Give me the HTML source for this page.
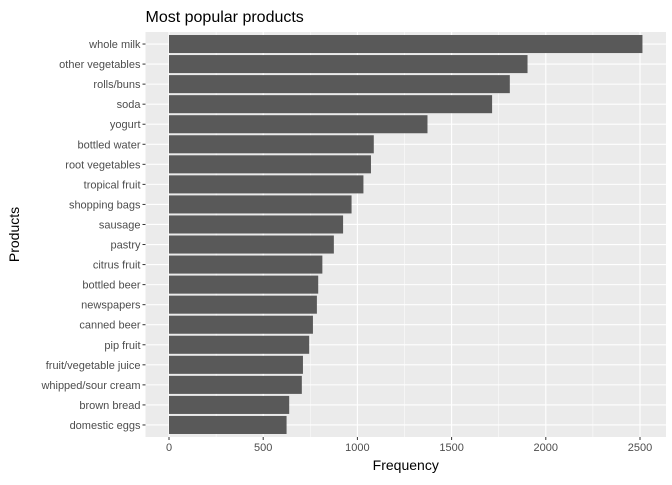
<!DOCTYPE html>
<html><head><meta charset="utf-8"><style>
body{margin:0;background:#fff;font-family:"Liberation Sans",sans-serif}
</style></head><body>
<svg width="672" height="480" id="c" xmlns="http://www.w3.org/2000/svg"></svg>
<script>
const categories=["whole milk","other vegetables","rolls/buns","soda","yogurt","bottled water","root vegetables","tropical fruit","shopping bags","sausage","pastry","citrus fruit","bottled beer","newspapers","canned beer","pip fruit","fruit/vegetable juice","whipped/sour cream","brown bread","domestic eggs"];
const values=[2513,1903,1809,1715,1372,1087,1072,1032,969,924,875,814,792,785,764,744,711,705,638,624];
const xTicks=[0,500,1000,1500,2000,2500];
const svg=document.getElementById('c');
const NS="http://www.w3.org/2000/svg";
const L=145.5,R=666,T=32,B=437;
const x=v=>169+v*0.1884;
const step=(B-T)/(categories.length+0.2);
const y=i=>T+step*0.6+i*step;
function mk(t,a,p){const e=document.createElementNS(NS,t);for(const k in a)e.setAttribute(k,a[k]);(p||svg).appendChild(e);return e;}
const bg=mk('rect',{x:L,y:T,width:R-L,height:B-T,fill:'#ebebeb'});


for(let i=0;i<xTicks.length-1;i++){const m=(xTicks[i]+xTicks[i+1])/2;const g=mk('line',{x1:x(m),x2:x(m),y1:T,y2:B,stroke:'#fff','stroke-width':0.5});

}
xTicks.forEach(t=>{const g=mk('line',{x1:x(t),x2:x(t),y1:T,y2:B,stroke:'#fff','stroke-width':1.1});


mk('line',{x1:x(t),x2:x(t),y1:B,y2:B+3,stroke:'#333','stroke-width':1});
const tx=mk('text',{x:x(t),y:B+14,'text-anchor':'middle','font-size':11,fill:'#4d4d4d'});tx.textContent=t;

});
categories.forEach((c,i)=>{const g=mk('line',{x1:L,x2:R,y1:y(i),y2:y(i),stroke:'#fff','stroke-width':1.1});


const b=mk('rect',{x:x(0),y:y(i)-step*0.45,width:x(values[i])-x(0),height:step*0.9,fill:'#595959'});


mk('line',{x1:L-3,x2:L,y1:y(i),y2:y(i),stroke:'#333','stroke-width':1});
const tx=mk('text',{x:L-5,y:y(i)+4,'text-anchor':'end','font-size':11,fill:'#4d4d4d'});tx.textContent=c;

});
const ti=mk('text',{x:L,y:22,'font-size':16,fill:'#000'});ti.textContent='Most popular products';


const xt=mk('text',{x:(L+R)/2,y:470,'text-anchor':'middle','font-size':14,fill:'#000'});xt.textContent='Frequency';


const yt=mk('text',{x:0,y:0,'text-anchor':'middle','font-size':14,fill:'#000',transform:`translate(19,${(T+B)/2}) rotate(-90)`});yt.textContent='Products';


</script>
</body></html>
